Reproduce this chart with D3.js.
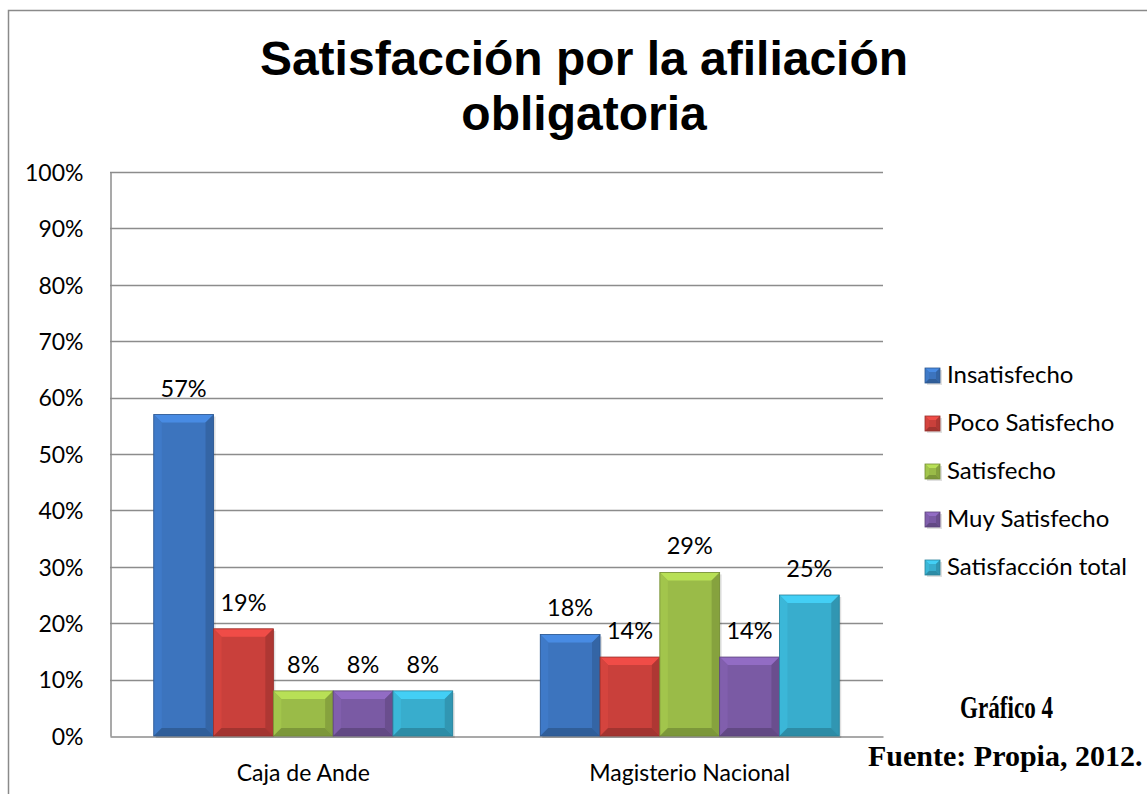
<!DOCTYPE html>
<html>
<head>
<meta charset="utf-8">
<script src="https://cdn.jsdelivr.net/npm/d3@7"></script>
<style>
  html, body { margin: 0; padding: 0; background: #fff; }
  svg { display: block; }
</style>
</head>
<body>
<svg id="chart" width="1147" height="794"></svg>
<script>
// ---- data ----
const categories = ["Caja de Ande", "Magisterio Nacional"];
const seriesNames = ["Insatisfecho", "Poco Satisfecho", "Satisfecho", "Muy Satisfecho", "Satisfacción total"];
const insatisfecho = [0.57, 0.18];
const pocoSatisfecho = [0.19, 0.14];
const satisfecho = [0.08, 0.29];
const muySatisfecho = [0.08, 0.14];
const satisfaccionTotal = [0.08, 0.25];
const yTicks = [0, 0.1, 0.2, 0.3, 0.4, 0.5, 0.6, 0.7, 0.8, 0.9, 1.0];
const titleLines = ["Satisfacción por la afiliación", "obligatoria"];
const noteGrafico = "Gráfico 4";
const noteFuente = "Fuente: Propia, 2012.";

const seriesValues = [insatisfecho, pocoSatisfecho, satisfecho, muySatisfecho, satisfaccionTotal];
const colors = ["#3C74BE", "#C9403B", "#9ABB48", "#7A5AA4", "#38ADCD"];

const svg = d3.select("#chart");
const font = "Lato, 'Open Sans', sans-serif";

// outer border
svg.append("rect").attr("x", 8.5).attr("y", 10.5).attr("width", 1160).attr("height", 800)
  .attr("fill", "none").attr("stroke", "#8a8a8a").attr("stroke-width", 1.5);

// title
svg.append("text").attr("x", 584).attr("y", 0).attr("text-anchor", "middle")
  .attr("font-family", "'Liberation Sans', Arial, sans-serif").attr("font-weight", "bold")
  .attr("font-size", 48).attr("fill", "#000")
  .selectAll("tspan").data(titleLines).join("tspan")
  .attr("x", 584).attr("y", (d, i) => 75 + i * 55).text(d => d);

const plotL = 110, plotR = 883, plotT = 172, plotB = 736;
const y = d3.scaleLinear().domain([0, 1]).range([plotB, plotT]);
const x0 = d3.scaleBand().domain(categories).range([plotL, plotR]).paddingInner(0.2264).paddingOuter(0.1132);
const x1 = d3.scaleBand().domain(seriesNames).range([0, x0.bandwidth()]);

// gridlines
svg.append("g").selectAll("line").data(yTicks.slice(1)).join("line")
  .attr("x1", plotL).attr("x2", plotR).attr("y1", d => Math.round(y(d)) + 0.5).attr("y2", d => Math.round(y(d)) + 0.5)
  .attr("stroke", "#8c8c8c").attr("stroke-width", 1.5);

// y axis
const yAxis = d3.axisLeft(y).tickValues(yTicks).tickFormat(d3.format(".0%")).tickSize(0).tickPadding(27);
const gy = svg.append("g").attr("transform", `translate(${plotL + 0.5},0)`).call(yAxis);
gy.select(".domain").attr("stroke", "#8c8c8c").attr("stroke-width", 1.5);
gy.selectAll("text").attr("font-family", font).attr("font-size", 23).attr("fill", "#000").attr("dy", "0.36em");

// x axis
const xAxis = d3.axisBottom(x0).tickSize(0).tickPadding(28);
const gx = svg.append("g").attr("transform", `translate(0,${plotB + 0.5})`).call(xAxis);
gx.select(".domain").attr("stroke", "#8c8c8c").attr("stroke-width", 1.5);
gx.selectAll("text").attr("font-family", font).attr("font-size", 23).attr("fill", "#000");

// bevel helper
function bevel(g, x, yTop, w, h, color, b) {
  const c = d3.color(color);
  g.append("rect").attr("x", x + 2).attr("y", yTop + 2).attr("width", w).attr("height", h)
    .attr("fill", "#000").attr("opacity", 0.12);
  g.append("rect").attr("x", x).attr("y", yTop).attr("width", w).attr("height", h).attr("fill", color);
  const bb = Math.min(b, h / 2, w / 2);
  const x2 = x + w, y2 = yTop + h;
  const poly = (pts, fill) => g.append("polygon").attr("points", pts.map(p => p.join(",")).join(" ")).attr("fill", fill);
  poly([[x, yTop], [x2, yTop], [x2 - bb, yTop + bb], [x + bb, yTop + bb]], c.brighter(0.5));
  poly([[x, yTop], [x + bb, yTop + bb], [x + bb, y2 - bb], [x, y2]], c.brighter(0.15));
  poly([[x2, yTop], [x2, y2], [x2 - bb, y2 - bb], [x2 - bb, yTop + bb]], c.darker(0.4));
  poly([[x, y2], [x2, y2], [x2 - bb, y2 - bb], [x + bb, y2 - bb]], c.darker(0.6));
  g.append("rect").attr("x", x).attr("y", yTop).attr("width", w).attr("height", h)
    .attr("fill", "none").attr("stroke", c.darker(0.8)).attr("stroke-width", 0.8);
}

// bars
const barsG = svg.append("g");
categories.forEach((cat, ci) => {
  seriesNames.forEach((s, si) => {
    const v = seriesValues[si][ci];
    const bx = x0(cat) + x1(s);
    bevel(barsG, bx, y(v), x1.bandwidth(), y(0) - y(v), colors[si], 8);
  });
});

// labels
const labelsG = svg.append("g");
categories.forEach((cat, ci) => {
  seriesNames.forEach((s, si) => {
    const v = seriesValues[si][ci];
    labelsG.append("text")
      .attr("x", x0(cat) + x1(s) + x1.bandwidth() / 2)
      .attr("y", y(v) - 18)
      .attr("text-anchor", "middle")
      .attr("font-family", font).attr("font-size", 23.5).attr("fill", "#000")
      .text(d3.format(".0%")(v));
  });
});

// legend
const legend = svg.append("g");
seriesNames.forEach((s, i) => {
  const ly = 383 + i * 48;
  const lg = legend.append("g");
  bevel(lg, 925, ly - 15, 15, 15, colors[i], 4);
  lg.append("text").attr("x", 947).attr("y", ly)
    .attr("font-family", font).attr("font-size", 24).attr("fill", "#000").text(s);
});

// notes
svg.append("text").attr("x", 960).attr("y", 718)
  .attr("font-family", "'Liberation Serif', 'Times New Roman', serif").attr("font-weight", "bold")
  .attr("font-size", 32).attr("textLength", 93).attr("lengthAdjust", "spacingAndGlyphs")
  .attr("fill", "#000").text(noteGrafico);
svg.append("text").attr("x", 868).attr("y", 766)
  .attr("font-family", "'Liberation Serif', 'Times New Roman', serif").attr("font-weight", "bold")
  .attr("font-size", 30).attr("fill", "#000").text(noteFuente);
</script>
</body>
</html>
